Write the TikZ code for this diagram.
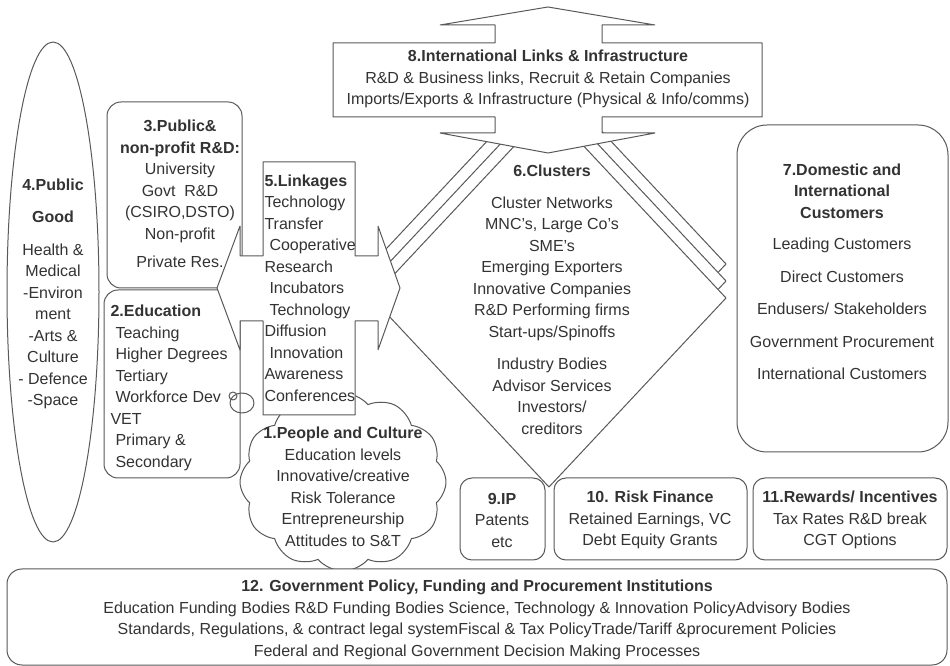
\documentclass[tikz,border=0pt]{standalone}
\usepackage{fontspec}
\setmainfont{Liberation Sans}
\usetikzlibrary{shapes.symbols}
\definecolor{strokecol}{rgb}{0.35,0.35,0.35}
\definecolor{inkcol}{rgb}{0.2,0.2,0.2}

\begin{document}
\begin{tikzpicture}[>=latex,line join=bevel,
  part/.style={draw=strokecol,fill=white},
  lbl/.style={inner sep=0pt,text=inkcol,align=center,font=\fontsize{16bp}{21.5bp}\selectfont},
  ]
  \pgfsetlinewidth{1bp}
  \useasboundingbox (0bp,0bp) rectangle (950bp,666bp);
%%
  % Node: PublicGood
  \draw [part] (53bp,374bp) ellipse (46bp and 250bp);
  % Node: PublicRD
  \draw [part,rounded corners=14bp] (107bp,378bp) rectangle (242bp,564bp);
  % Node: Education
  \draw [part,rounded corners=14bp] (104bp,188bp) rectangle (240bp,376bp);
  % Node: People
\begin{scope}
  \node [part,cloud,cloud puffs=12,cloud puff arc=100,aspect=1.15,inner sep=0pt,
         minimum width=206bp,minimum height=178bp] (peoplecloud) at (343bp,184bp) {};
  \draw [strokecol] (233bp,270bp) circle (4bp);
  \draw [strokecol] (242bp,263bp) ellipse (12bp and 10bp);
\end{scope}
  % Node: Clusters
\begin{scope}
  \draw [part] (726bp,402bp) -- (549bp,213bp) -- (372bp,402bp) -- (549bp,591bp) -- cycle;
  \draw [part] (726bp,385bp) -- (549bp,196bp) -- (372bp,385bp) -- (549bp,574bp) -- cycle;
  \draw [part] (726bp,368bp) -- (549bp,179bp) -- (372bp,368bp) -- (549bp,557bp) -- cycle;
\end{scope}
  % Node: International
  \draw [part] (548bp,659bp) -- (655bp,641bp) -- (602bp,641bp) -- (602bp,623bp) -- (762bp,623bp)
    -- (762bp,549bp) -- (602bp,549bp) -- (602bp,533bp) -- (655bp,533bp) -- (548bp,513bp)
    -- (440bp,533bp) -- (495bp,533bp) -- (495bp,549bp) -- (333bp,549bp) -- (333bp,623bp)
    -- (495bp,623bp) -- (495bp,641bp) -- (440bp,641bp) -- cycle;
  % Node: Linkages
  \draw [part] (217bp,378bp) -- (240bp,440bp) -- (240bp,410bp) -- (263bp,410bp) -- (263bp,504bp)
    -- (355bp,504bp) -- (355bp,410bp) -- (378bp,410bp) -- (378bp,440bp) -- (400bp,378bp)
    -- (378bp,316bp) -- (378bp,345bp) -- (355bp,345bp) -- (355bp,251bp) -- (263bp,251bp)
    -- (263bp,345bp) -- (240bp,345bp) -- (240bp,316bp) -- cycle;
  % Node: Customers
  \draw [part,rounded corners=30bp] (737bp,214bp) rectangle (948bp,541bp);
  % Node: IP, RiskFinance, Rewards
  \draw [part,rounded corners=12bp] (460bp,106bp) rectangle (545bp,188bp);
  \draw [part,rounded corners=12bp] (554bp,106bp) rectangle (747bp,188bp);
  \draw [part,rounded corners=12bp] (753bp,106bp) rectangle (947bp,188bp);
  % Node: Government
  \draw [part,rounded corners=15bp] (7bp,1bp) rectangle (947bp,97bp);
%
  % Labels
  \node [lbl] (pubgood) at (53bp,372bp) {\textbf{4.Public}\\[10.5bp]\textbf{Good}\\[11bp]Health \&\\Medical\\-Environ\\ment\\-Arts \&\\Culture\\- Defence\\-Space};
  \node [lbl] (pubrd) at (180bp,472bp) {\textbf{3.Public\&}\\\textbf{non-profit R\&D:}\\University\\Govt\ \ R\&D\\(CSIRO,DSTO)\\Non-profit\\[7bp]Private Res.};
  \node [lbl,align=left,anchor=west] (edu) at (110bp,278bp) {\textbf{2.Education}\\\hspace*{5bp}Teaching\\\hspace*{5bp}Higher Degrees\\\hspace*{5bp}Tertiary\\\hspace*{5bp}Workforce Dev\\VET\\\hspace*{5bp}Primary \&\\\hspace*{5bp}Secondary};
  \node [lbl,align=left,anchor=west] (link) at (264bp,378bp) {\textbf{5.Linkages}\\Technology\\Transfer\\\hspace*{5bp}Cooperative\\Research\\\hspace*{5bp}Incubators\\\hspace*{5bp}Technology\\Diffusion\\\hspace*{5bp}Innovation\\Awareness\\Conferences};
  \node [lbl] (people) at (343bp,179bp) {\textbf{1.People and Culture}\\Education levels\\Innovative/creative\\Risk Tolerance\\Entrepreneurship\\Attitudes to S\&T};
  \node [lbl] (intl) at (548bp,587bp) {\textbf{8.International Links \& Infrastructure}\\R\&D \& Business links, Recruit \& Retain Companies\\Imports/Exports \& Infrastructure (Physical \& Info/comms)};
  \node [lbl] (clus) at (552bp,366bp) {\textbf{6.Clusters}\\[10bp]Cluster Networks\\MNC's, Large Co's\\SME's\\Emerging Exporters\\Innovative Companies\\R\&D Performing firms\\Start-ups/Spinoffs\\[11bp]Industry Bodies\\Advisor Services\\Investors/\\creditors};
  \node [lbl] (cust) at (842bp,394bp) {\textbf{7.Domestic and}\\\textbf{International}\\\textbf{Customers}\\[10bp]Leading Customers\\[11bp]Direct Customers\\[11bp]Endusers/ Stakeholders\\[11bp]Government Procurement\\[11bp]International Customers};
  \node [lbl] (ip) at (502bp,146bp) {\textbf{9.IP}\\Patents\\etc};
  \node [lbl] (fin) at (650bp,146bp) {\textbf{10. Risk Finance}\\Retained Earnings, VC\\Debt Equity Grants};
  \node [lbl] (rew) at (850bp,146bp) {\textbf{11.Rewards/ Incentives}\\Tax Rates R\&D break\\CGT Options};
  \node [lbl] (gov) at (477bp,46bp) {\textbf{12. Government Policy, Funding and Procurement Institutions}\\Education Funding Bodies R\&D Funding Bodies Science, Technology \& Innovation PolicyAdvisory Bodies\\Standards, Regulations, \& contract legal systemFiscal \& Tax PolicyTrade/Tariff \&procurement Policies\\Federal and Regional Government Decision Making Processes};
%
\end{tikzpicture}
\end{document}
